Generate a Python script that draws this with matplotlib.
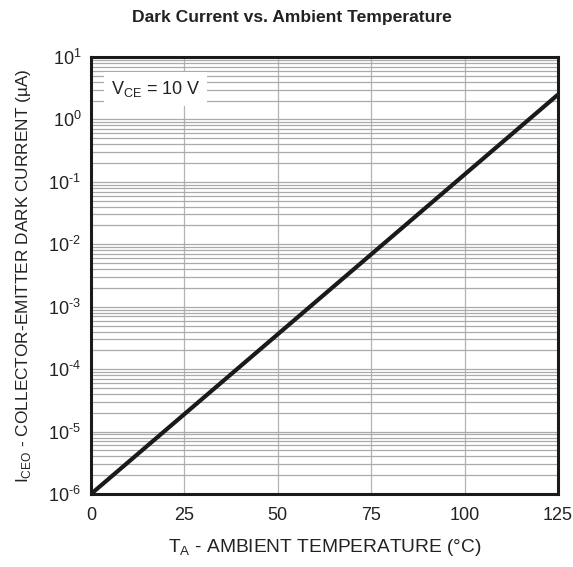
import numpy as np
import matplotlib
matplotlib.use('Agg')
import matplotlib.pyplot as plt
from matplotlib.ticker import LogLocator, FixedLocator, FuncFormatter

plt.rcParams['font.family'] = ['Liberation Sans', 'DejaVu Sans']
plt.rcParams['axes.unicode_minus'] = False
plt.rcParams['mathtext.fontset'] = 'custom'
plt.rcParams['mathtext.rm'] = 'Liberation Sans'

#
# curve end points
temp = [0, 125]
iceo = [1e-6, 2.5]

xticks = [0, 25, 50, 75, 100, 125]


def dec_label(v, p):
    # datasheet style: plain hyphen in the exponent
    e = int(round(np.log10(v)))
    s = str(e).replace('-', '\u2010')
    return r'$\mathregular{10^{%s}}$' % s


fig = plt.figure(figsize=(5.73, 5.67), dpi=100)
ax = fig.add_axes([91/573, 1-494/567, 467/573, 437/567])

ax.set_yscale('log')
ax.set_xlim(0, 125)
ax.set_ylim(1e-6, 1e1)

#
# grid: vertical at major x, horizontal at all log ticks
ax.xaxis.set_major_locator(FixedLocator(xticks))
ax.yaxis.set_major_locator(LogLocator(base=10, numticks=20))
ax.yaxis.set_minor_locator(LogLocator(base=10, subs=np.arange(2, 10), numticks=20))
ax.yaxis.set_major_formatter(FuncFormatter(dec_label))
ax.grid(True, which='major', axis='x', color='#b4b4b4', lw=0.9)
ax.grid(True, which='both', axis='y', color='#aaaaaa', lw=0.9)
ax.tick_params(which='both', length=0, labelsize=13, colors='#222222', pad=7)
ax.tick_params(axis='x', pad=9)

ax.plot(temp, iceo, color='#1a1a1a', lw=3, solid_capstyle='butt', zorder=5)

for s in ax.spines.values():
    s.set_linewidth(2.2)
    s.set_color('#1a1a1a')

ax.text(5.3, 3.1, r'V$_\mathregular{CE}$ = 10 V', fontsize=13, color='#222222',
        va='center', ha='left', zorder=4,
        bbox=dict(facecolor='white', edgecolor='none', pad=5))

ax.set_xlabel(r'T$_\mathregular{A}$ - AMBIENT TEMPERATURE ($\degree$C)', fontsize=13.8,
              color='#222222', labelpad=10)
ax.set_ylabel('I$_\\mathregular{CEO}$ - COLLECTOR-EMITTER DARK CURRENT (\u00b5A)',
              fontsize=12.4, color='#222222', labelpad=11)
fig.suptitle('Dark Current vs. Ambient Temperature', fontsize=12.6, fontweight='bold',
             color='#222222', x=0.51, y=0.982)

fig.savefig('out.png', dpi=100)
